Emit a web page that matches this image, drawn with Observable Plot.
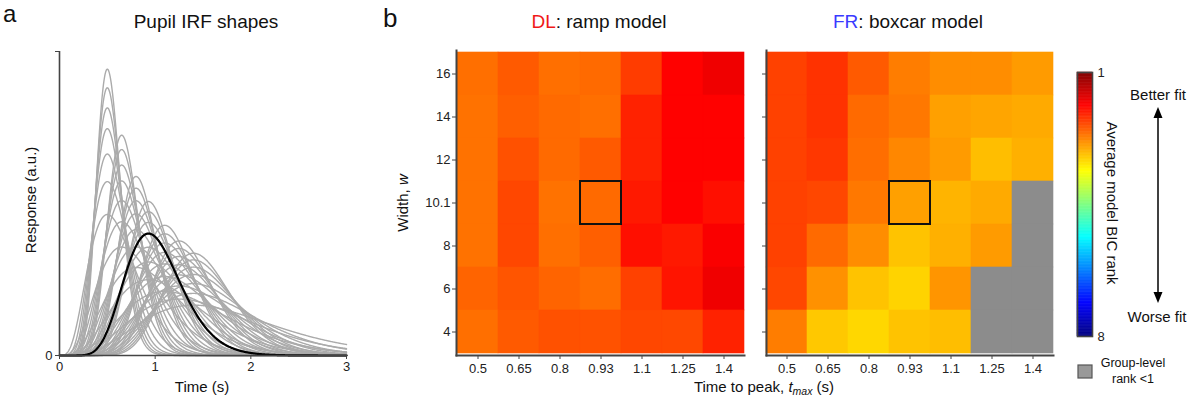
<!DOCTYPE html>
<html><head><meta charset="utf-8">
<script src="https://cdn.jsdelivr.net/npm/d3@7"></script>
<script src="https://cdn.jsdelivr.net/npm/@observablehq/plot@0.6"></script>
<style>
body{margin:0;background:#fff;}
#root{position:relative;width:1194px;height:401px;overflow:hidden;background:#fff;font-family:"Liberation Sans",Arial,sans-serif;}
#root > svg{position:absolute;top:0;}
</style></head><body><div id="root"></div>
<script>
// ---------- data ----------
const tmaxLabels = ["0.5","0.65","0.8","0.93","1.1","1.25","1.4"];
const tmaxValues = [0.5,0.65,0.8,0.93,1.1,1.25,1.4];
const widthLabels = ["16","14","12","10.1","8","6","4"];   // top to bottom
const widthValues = [16,14,12,10.1,8,6,4];
// average model BIC rank (1 = best, 8 = worst); null = group-level rank < 1
const dlRanks = [
  [2.64,2.49,2.64,2.60,2.29,1.88,1.77],
  [2.66,2.53,2.60,2.64,2.11,1.88,1.88],
  [2.66,2.43,2.60,2.49,2.11,1.88,1.88],
  [2.66,2.36,2.66,2.60,2.05,1.88,1.98],
  [2.66,2.36,2.64,2.53,1.98,2.05,1.84],
  [2.56,2.46,2.56,2.62,2.32,2.01,1.77],
  [2.64,2.49,2.43,2.44,2.36,2.37,2.11]
];
const frRanks = [
  [2.32,2.22,2.49,2.73,2.84,2.84,2.94],
  [2.32,2.22,2.60,2.70,2.97,3.01,3.04],
  [2.32,2.25,2.63,2.80,2.94,3.18,3.08],
  [2.32,2.36,2.70,2.97,3.11,3.04,null],
  [2.32,2.60,2.84,3.21,3.08,2.94,null],
  [2.36,2.87,3.21,3.32,2.90,null,null],
  [2.73,3.25,3.35,3.21,3.18,null,null]
];
const bestTmax = "0.93", bestWidth = "10.1";
const rankDomain = [1, 8];
const rankTicks = [1, 8];
const timeTicks = [0, 1, 2, 3];
const responseMax = 3.37;

// ---------- helpers ----------
const FONT = '"Liberation Sans", Arial, sans-serif';
const AXIS = "#444";
function jet(t){
  const c = x => Math.max(0, Math.min(1, x));
  const r = c(1.5 - Math.abs(4*t - 3)), g = c(1.5 - Math.abs(4*t - 2)), b = c(1.5 - Math.abs(4*t - 1));
  return `rgb(${Math.round(r*255)},${Math.round(g*255)},${Math.round(b*255)})`;
}
// rank 1 -> dark red, rank 8 -> dark blue
const jetReversed = t => jet(1 - t);
function lgamma(x){
  const c=[0.99999999999980993,676.5203681218851,-1259.1392167224028,771.32342877765313,-176.61502916214059,12.507343278686905,-0.13857109526572012,9.9843695780195716e-6,1.5056327351493116e-7];
  x -= 1; let a = c[0]; const t = x + 7.5;
  for (let i = 1; i < 9; i++) a += c[i]/(x+i);
  return 0.5*Math.log(2*Math.PI) + (x+0.5)*Math.log(t) - t + Math.log(a);
}
// Erlang/gamma pupil IRF with peak at tmax and width w (unit area)
function irf(t, tmax, w){
  if (t <= 0) return 0;
  return Math.exp(w*Math.log(t) - w*t/tmax - lgamma(w+1) - (w+1)*Math.log(tmax/w));
}
const root = document.getElementById("root");
function place(svg, left){ svg.style.left = left + "px"; root.appendChild(svg); }

// ---------- panel a ----------
const times = d3.range(0, 3.0001, 0.005);
const curves = [];
tmaxValues.forEach(tm => widthValues.forEach(w => {
  const id = tm + "_" + w;
  times.forEach(t => curves.push({id, t, v: irf(t, tm, w)}));
}));
const bestCurve = times.map(t => ({t, v: irf(t, 0.93, 10.1)}));

place(Plot.plot({
  width: 370, height: 401, marginLeft: 59, marginRight: 24, marginTop: 51, marginBottom: 46,
  style: {background: "none", fontFamily: FONT, fontSize: "13px", color: "#222"},
  x: {domain: [0, 3], label: null},
  y: {domain: [0, responseMax], label: null},
  marks: [
    Plot.line(curves, {x: "t", y: "v", z: "id", stroke: "#ababab", strokeWidth: 1.4}),
    Plot.line(bestCurve, {x: "t", y: "v", stroke: "#000", strokeWidth: 2.2}),
    Plot.ruleY([0], {stroke: AXIS, strokeWidth: 1.6}),
    Plot.ruleX([0], {stroke: AXIS, strokeWidth: 1.6}),
    Plot.axisX({ticks: timeTicks, tickSize: 4, tickPadding: 2, stroke: AXIS, tickFormat: d3.format("d"), label: null}),
    Plot.axisY({ticks: [0, responseMax], tickSize: 4, tickPadding: 3, stroke: AXIS, tickFormat: d => d === 0 ? "0" : "", label: null})
  ]
}), 0);

// ---------- panel b heatmaps ----------
function heatmap(ranks, showYLabels, width, marginLeft){
  const cells = widthLabels.flatMap((w, i) => tmaxLabels.map((t, j) => ({tmax: t, width: w, rank: ranks[i][j]})));
  return Plot.plot({
    width, height: 401, marginLeft, marginRight: 6, marginTop: 50, marginBottom: 46,
    style: {background: "none", fontFamily: FONT, fontSize: "13px", color: "#222"},
    x: {type: "band", domain: tmaxLabels, padding: 0, label: null},
    y: {type: "band", domain: widthLabels, padding: 0, label: null},
    color: {type: "linear", domain: rankDomain, interpolate: jetReversed},
    marks: [
      Plot.cell(cells.filter(d => d.rank != null), {x: "tmax", y: "width", fill: "rank", stroke: "rank", strokeWidth: 0.6}),
      Plot.cell(cells.filter(d => d.rank == null), {x: "tmax", y: "width", fill: "#8c8c8c", stroke: "#8c8c8c", strokeWidth: 0.6}),
      Plot.cell([{tmax: bestTmax, width: bestWidth}], {x: "tmax", y: "width", fill: "none", stroke: "#111", strokeWidth: 2}),
      Plot.frame({anchor: "left", stroke: AXIS, strokeWidth: 2}),
      Plot.frame({anchor: "bottom", stroke: AXIS, strokeWidth: 2}),
      Plot.axisX({tickSize: 4, tickPadding: 4, stroke: AXIS, label: null}),
      Plot.axisY({tickSize: 4, tickPadding: 2, stroke: AXIS, label: null, tickFormat: showYLabels ? (d => d) : (() => "")})
    ]
  });
}
place(heatmap(dlRanks, true, 360, 66), 390);
place(heatmap(frRanks, false, 309, 16), 750);

// ---------- colorbar ----------
const barStep = 0.02;
const barSteps = d3.range(1, 8, barStep);
place(Plot.plot({
  width: 60, height: 401, marginLeft: 17, marginRight: 28, marginTop: 72, marginBottom: 65,
  style: {background: "none", fontFamily: FONT, fontSize: "13px", color: "#222"},
  x: {domain: [0, 1], axis: null},
  y: {domain: rankDomain, reverse: true, label: null},
  color: {type: "linear", domain: rankDomain, interpolate: jetReversed},
  marks: [
    Plot.rect(barSteps, {x1: () => 0, x2: () => 1, y1: d => d, y2: d => Math.min(8, d + barStep), fill: d => d + barStep/2, stroke: d => d + barStep/2, strokeWidth: 0.5}),
    Plot.frame({stroke: AXIS, strokeWidth: 1.6}),
    Plot.axisY({anchor: "right", ticks: rankTicks, tickSize: 0, tickPadding: 5, tickFormat: d3.format("d"), label: null})
  ]
}), 1060);

// ---------- text overlay ----------
const ov = d3.select(root).append("svg")
  .attr("width", 1194).attr("height", 401)
  .style("left", "0px").style("pointer-events", "none")
  .attr("font-family", FONT).attr("fill", "#111");
function txt(x, y, s, size, anchor = "middle", rot = 0){
  const t = ov.append("text").attr("x", x).attr("y", y).attr("font-size", size).attr("text-anchor", anchor);
  if (rot) t.attr("transform", `rotate(${rot},${x},${y})`);
  if (s != null) t.text(s);
  return t;
}
txt(3, 22, "a", 24, "start");
txt(383, 26.5, "b", 26, "start");
txt(206, 28, "Pupil IRF shapes", 19);
const dl = txt(599, 28, null, 19);
dl.append("tspan").attr("fill", "#f01818").text("DL");
dl.append("tspan").text(": ramp model");
const fr = txt(908, 28, null, 19);
fr.append("tspan").attr("fill", "#3a3aff").text("FR");
fr.append("tspan").text(": boxcar model");
txt(36, 200, "Response (a.u.)", 15, "middle", -90);
txt(202, 392, "Time (s)", 15);
const wl = txt(408, 203, null, 15, "middle", -90);
wl.append("tspan").text("Width, ");
wl.append("tspan").attr("font-style", "italic").text("w");
const xl = txt(764, 392, null, 15);
xl.append("tspan").text("Time to peak, ");
xl.append("tspan").attr("font-style", "italic").text("t");
xl.append("tspan").attr("font-style", "italic").attr("font-size", 10.5).attr("dy", 3).text("max");
xl.append("tspan").attr("dy", -3).text(" (s)");
txt(1107, 203, "Average model BIC rank", 15, "middle", 90);
txt(1158, 100, "Better fit", 15);
txt(1157, 322, "Worse fit", 15);
ov.append("line").attr("x1", 1158).attr("x2", 1158).attr("y1", 116).attr("y2", 294).attr("stroke", "#000").attr("stroke-width", 1.5);
ov.append("path").attr("d", "M1158,107 L1153.5,118 L1162.5,118 Z").attr("fill", "#000");
ov.append("path").attr("d", "M1158,303 L1153.5,292 L1162.5,292 Z").attr("fill", "#000");
ov.append("rect").attr("x", 1078).attr("y", 365).attr("width", 14).attr("height", 13).attr("fill", "#999").attr("stroke", "#555").attr("stroke-width", 1.2);
txt(1133, 367, "Group-level", 12.5);
txt(1133, 383, "rank <1", 12.5);
</script></body></html>
